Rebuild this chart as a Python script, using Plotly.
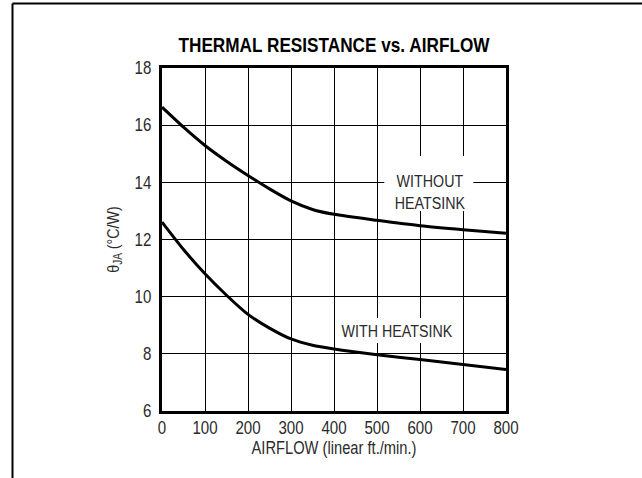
import plotly.graph_objects as go

# Airflow (linear ft./min.) and junction-to-ambient thermal resistance (°C/W)
airflow = [0, 50, 100, 150, 200, 250, 300, 350, 400, 500, 600, 700, 800]
theta_without = [16.63, 15.93, 15.29, 14.74, 14.24, 13.77, 13.35, 13.05, 12.88, 12.67, 12.48, 12.34, 12.22]
theta_with = [12.61, 11.65, 10.80, 10.05, 9.38, 8.90, 8.52, 8.30, 8.17, 7.97, 7.80, 7.63, 7.45]

x_ticks = [0, 100, 200, 300, 400, 500, 600, 700, 800]
y_ticks = [6, 8, 10, 12, 14, 16, 18]

W, H = 642, 478
ML, MR, MT, MB = 162, 136, 68, 67

FONT = "Liberation Sans, Arial, sans-serif"
TEXT = "#2b2b2b"

fig = go.Figure()
for ys in (theta_without, theta_with):
    fig.add_trace(go.Scatter(
        x=airflow, y=ys, mode="lines",
        line=dict(color="black", width=3, shape="spline", smoothing=0.6),
        hoverinfo="skip", showlegend=False,
    ))

axis_common = dict(
    showgrid=True, gridcolor="black", gridwidth=1,
    showline=True, linecolor="black", linewidth=3, mirror=True,
    ticks="", zeroline=False,
    tickfont=dict(family=FONT, size=18, color=TEXT),
)

fig.update_xaxes(range=[0, 800], tickvals=x_ticks, ticklabelstandoff=-2,
                 title=dict(text="AIRFLOW (linear ft./min.)", standoff=2,
                            font=dict(family=FONT, size=17.5, color=TEXT)),
                 **axis_common)
fig.update_yaxes(range=[6, 18], tickvals=y_ticks, ticklabelstandoff=4,
                 title=dict(text="θ<sub>JA</sub> (°C/W)", standoff=8,
                            font=dict(family=FONT, size=17, color=TEXT)),
                 **axis_common)

# White panels behind the curve labels, drawn over the grid but under the curves
fig.add_shape(type="rect", xref="x", yref="y", layer="between",
              x0=517, x1=724, y0=13.0, y1=14.92,
              fillcolor="white", line_width=0)
fig.add_shape(type="rect", xref="x", yref="y", layer="between",
              x0=420, x1=680, y0=8.38, y1=9.25,
              fillcolor="white", line_width=0)

fig.add_annotation(x=623, y=13.64, xref="x", yref="y",
                   text="WITHOUT<br>HEATSINK", showarrow=False,
                   font=dict(family=FONT, size=17, color=TEXT), align="center")
fig.add_annotation(x=547, y=8.79, xref="x", yref="y",
                   text="WITH HEATSINK", showarrow=False,
                   font=dict(family=FONT, size=17, color=TEXT))

# Outer page frame: left and top edges
pw = W - ML - MR
ph = H - MT - MB
def px_x(px):
    return (px - ML) / pw
def px_y(py):
    return (H - MB - py) / ph

fig.add_shape(type="line", xref="paper", yref="paper",
              x0=px_x(12.5), x1=px_x(12.5), y0=px_y(3.5), y1=px_y(H + 5),
              line=dict(color="black", width=2))
fig.add_shape(type="line", xref="paper", yref="paper",
              x0=px_x(12.5), x1=px_x(W + 5), y0=px_y(3.5), y1=px_y(3.5),
              line=dict(color="black", width=2))

fig.update_layout(
    width=W, height=H,
    margin=dict(l=ML, r=MR, t=MT, b=MB),
    paper_bgcolor="white", plot_bgcolor="white",
    title=dict(text="<b>THERMAL RESISTANCE vs. AIRFLOW</b>",
               x=(ML + pw / 2) / W, xanchor="center",
               y=1 - 45.5 / H, yanchor="middle",
               font=dict(family=FONT, size=20, color="black")),
)

# Narrow lettering: squeeze every SVG text horizontally about its anchor point
condense_js = """
var gd = document.getElementById('{plot_id}');
gd.querySelectorAll('svg.main-svg text').forEach(function (t) {
    var x = parseFloat(t.getAttribute('x')) || 0;
    var y = parseFloat(t.getAttribute('y')) || 0;
    var s = t.classList.contains('gtitle') ? 0.86 : 0.84;
    var tr = t.getAttribute('transform') || '';
    t.setAttribute('transform', tr + ' translate(' + x + ',' + y + ') scale(' + s + ',1) translate(' + (-x) + ',' + (-y) + ')');
});
"""

fig.write_html("out.html", post_script=condense_js)
